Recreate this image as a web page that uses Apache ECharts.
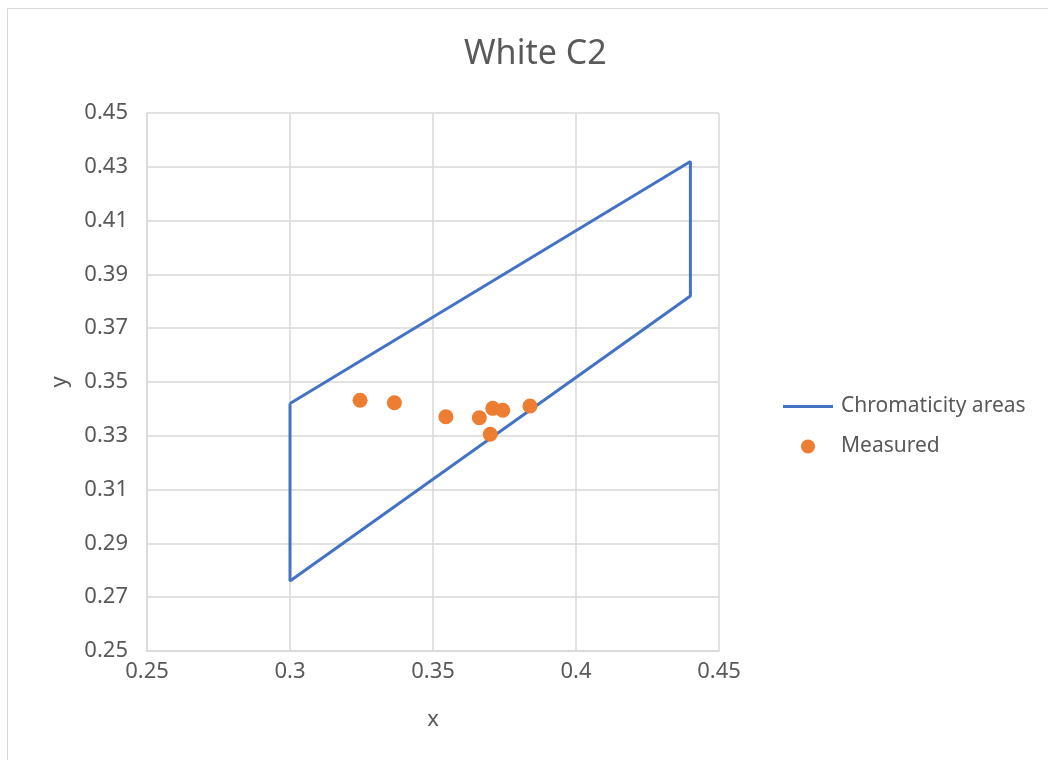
<!DOCTYPE html>
<html>
<head>
<meta charset="utf-8">
<script src="https://cdn.jsdelivr.net/npm/echarts@6/dist/echarts.min.js"></script>
<style>
  html, body { margin: 0; padding: 0; background: #fff; }
  #chart { width: 1048px; height: 760px; }
</style>
</head>
<body>
<div id="chart"></div>
<script>
// Chromaticity area outline (closed polygon)
const areaX = [0.30, 0.44, 0.44, 0.30, 0.30];
const areaY = [0.342, 0.432, 0.382, 0.276, 0.342];

// Measured points
const measuredX = [0.3245, 0.3365, 0.3545, 0.3662, 0.3709, 0.3744, 0.3839, 0.3700];
const measuredY = [0.3432, 0.3423, 0.3371, 0.3367, 0.3402, 0.3395, 0.3411, 0.3306];

const seriesNames = ['Chromaticity areas', 'Measured'];
const chartTitle = 'White C2';

const FONT = '"Noto Sans", sans-serif';
const TEXT = '#595959';
const GRID_LINE = '#d9d9d9';

const chart = echarts.init(document.getElementById('chart'), null, { renderer: 'canvas' });

chart.setOption({
  animation: false,
  backgroundColor: '#fff',
  graphic: [{
    type: 'rect',
    shape: { x: 7.5, y: 8.5, width: 1100, height: 800 },
    style: { fill: 'none', stroke: '#d9d9d9', lineWidth: 1 },
    silent: true
  }],
  title: {
    text: chartTitle,
    left: 459,
    top: 32,
    textStyle: { fontFamily: FONT, fontSize: 34, fontWeight: 'normal', color: TEXT }
  },
  grid: { left: 147, right: 329, top: 113, bottom: 109, containLabel: false },
  legend: {
    orient: 'vertical',
    left: 783,
    top: 396,
    padding: 0,
    itemWidth: 50,
    itemHeight: 14,
    itemGap: 19,
    symbolKeepAspect: true,
    textStyle: { fontFamily: FONT, fontSize: 21, color: TEXT, padding: [0, 0, 0, 3] },
    data: [
      { name: seriesNames[0], icon: 'path://M0,0L50,0L50,3L0,3Z' },
      { name: seriesNames[1], icon: 'circle' }
    ]
  },
  xAxis: {
    type: 'value',
    min: 0.25,
    max: 0.45,
    interval: 0.05,
    name: 'x',
    nameLocation: 'middle',
    nameGap: 58,
    nameTextStyle: { fontFamily: FONT, fontSize: 22, color: TEXT },
    axisLine: { show: true, lineStyle: { color: GRID_LINE, width: 1.5 } },
    axisTick: { show: false },
    axisLabel: { fontFamily: FONT, fontSize: 22, color: TEXT, margin: 10 },
    splitLine: { show: true, lineStyle: { color: GRID_LINE, width: 1.5 } }
  },
  yAxis: {
    type: 'value',
    min: 0.25,
    max: 0.45,
    interval: 0.02,
    name: 'y',
    nameLocation: 'middle',
    nameGap: 76,
    nameRotate: 90,
    nameTextStyle: { fontFamily: FONT, fontSize: 22, color: TEXT },
    axisLine: { show: true, lineStyle: { color: GRID_LINE, width: 1.5 } },
    axisTick: { show: false },
    axisLabel: { fontFamily: FONT, fontSize: 22, color: TEXT, margin: 19 },
    splitLine: { show: true, lineStyle: { color: GRID_LINE, width: 1.5 } }
  },
  series: [
    {
      name: seriesNames[0],
      type: 'line',
      symbol: 'none',
      color: '#4472C4',
      itemStyle: { color: '#4472C4' },
      lineStyle: { width: 3, color: '#4472C4' },
      data: areaX.map((x, i) => [x, areaY[i]]),
      z: 2
    },
    {
      name: seriesNames[1],
      type: 'scatter',
      symbol: 'circle',
      symbolSize: 15,
      itemStyle: { color: '#ED7D31', opacity: 1 },
      data: measuredX.map((x, i) => [x, measuredY[i]]),
      z: 3
    }
  ]
});
</script>
</body>
</html>
